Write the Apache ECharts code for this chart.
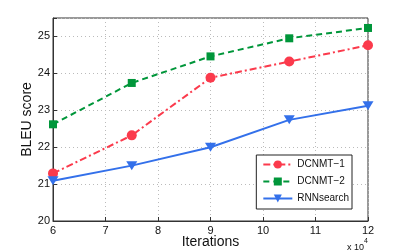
<!DOCTYPE html>
<html><head><meta charset="utf-8">
<script src="https://cdn.jsdelivr.net/npm/echarts@6/dist/echarts.min.js"></script>
<style>html,body{margin:0;padding:0;background:#fff}#c{width:407px;height:252px}</style>
</head><body><div id="c"></div>
<script>
const iterations = [6, 7.5, 9, 10.5, 12];
const dcnmt1 = [21.29, 22.32, 23.88, 24.32, 24.76];
const dcnmt2 = [22.62, 23.74, 24.46, 24.95, 25.23];
const rnnsearch = [21.09, 21.5, 22.0, 22.74, 23.12];
const seriesNames = ['DCNMT\u22121', 'DCNMT\u22122', 'RNNsearch'];

const pair = (xs, ys) => xs.map((x, i) => [x, ys[i]]);
const font = 'Liberation Sans, Arial, sans-serif';
const chart = echarts.init(document.getElementById('c'));
const axisCommon = {
  axisLine: {show: true, lineStyle: {color: '#333', width: 1}},
  axisTick: {show: true, inside: true, length: 4, lineStyle: {color: '#333'}},
  axisLabel: {color: '#111', fontSize: 11, fontFamily: font},
  splitLine: {show: true, lineStyle: {color: '#bbb', type: [1, 3], width: 1}}
};
chart.setOption({
  animation: false,
  backgroundColor: '#fff',
  grid: {left: 53, right: 39, top: 18, bottom: 31, outerBoundsMode: 'none', containLabel: false,
    show: true, borderColor: '#333', borderWidth: 1, backgroundColor: '#fff'},
  xAxis: Object.assign({}, axisCommon, {
    type: 'value', min: 6, max: 12, interval: 1,
    name: 'Iterations', nameLocation: 'middle', nameGap: 14, nameMoveOverlap: false,
    nameTextStyle: {fontSize: 14, color: '#111', fontFamily: font},
    axisLabel: Object.assign({}, axisCommon.axisLabel, {margin: 4})
  }),
  yAxis: Object.assign({}, axisCommon, {
    type: 'value', min: 20, max: 25.5, interval: 1,
    name: 'BLEU score', nameLocation: 'middle', nameGap: 19, nameMoveOverlap: false,
    nameTextStyle: {fontSize: 14, color: '#111', fontFamily: font},
    axisLabel: Object.assign({}, axisCommon.axisLabel, {margin: 3, formatter: v => Number.isInteger(v) ? String(v) : ''})
  }),
  legend: {
    orient: 'vertical', right: 55, top: 155,
    backgroundColor: '#fff', borderColor: '#222', borderWidth: 1, borderRadius: 0,
    padding: [3, 3, 4, 6], itemGap: 4, itemWidth: 29, itemHeight: 10,
    textStyle: {fontSize: 10, color: '#111', fontFamily: font, lineHeight: 13},
    data: seriesNames
  },
  graphic: [{
    type: 'text', left: 347, top: 243,
    style: {text: 'x 10', fill: '#111', font: '9px ' + font}
  }, {
    type: 'text', left: 364, top: 238,
    style: {text: '4', fill: '#111', font: '7px ' + font}
  }],
  series: [{
    name: seriesNames[0], type: 'line', data: pair(iterations, dcnmt1),
    symbol: 'circle', symbolSize: 10,
    itemStyle: {color: '#fb3a4c'},
    lineStyle: {color: '#fb3a4c', width: 2, type: [7, 3, 2, 3]}
  }, {
    name: seriesNames[1], type: 'line', data: pair(iterations, dcnmt2),
    symbol: 'rect', symbolSize: 8,
    itemStyle: {color: '#00963a'},
    lineStyle: {color: '#00963a', width: 2, type: [6, 4]}
  }, {
    name: seriesNames[2], type: 'line', data: pair(iterations, rnnsearch),
    symbol: 'triangle', symbolSize: [11, 9], symbolRotate: 180,
    itemStyle: {color: '#3370ea'},
    lineStyle: {color: '#3370ea', width: 2, type: 'solid'}
  }]
});
</script></body></html>
